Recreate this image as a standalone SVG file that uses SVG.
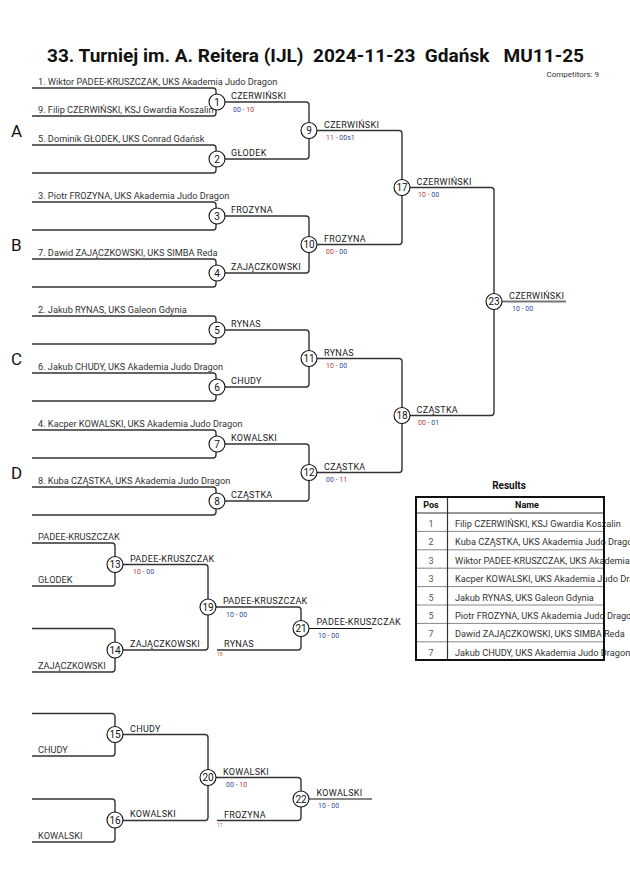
<svg xmlns="http://www.w3.org/2000/svg" width="630" height="891" viewBox="0 0 630 891">
<style>
text{font-family:Roboto,"Liberation Sans",sans-serif;fill:#222}
.title{font-size:18px;font-weight:bold;fill:#111}
.pool{font-size:17px;fill:#111}
.lab{font-size:9.2px;fill:#333}
.win{font-size:9px;fill:#222;letter-spacing:0.3px}
.sc{font-size:7px}
.r{fill:#b0392b}
.b{fill:#2d4a9a}
.d{fill:#555}
.tiny{font-size:5px;fill:#c0651e}
.num{font-size:10px;text-anchor:middle;fill:#111}
.br{fill:none;stroke:#333;stroke-width:1.4}
.fin{fill:none;stroke:#777;stroke-width:2}
.bk{fill:none;stroke:#111;stroke-width:1.2}
circle{fill:#fff;stroke:#111;stroke-width:1.1}
.th{font-size:9px;font-weight:bold;text-anchor:middle;fill:#111}
.pos{font-size:9px;text-anchor:middle;fill:#555}
.nm{font-size:9.2px;fill:#333}
</style>
<text class="title" x="47" y="62" textLength="537" lengthAdjust="spacingAndGlyphs" xml:space="preserve">33. Turniej im. A. Reitera (IJL)  2024-11-23  Gdańsk   MU11-25</text>
<text x="599" y="77" style="font-size:8px;text-anchor:end;fill:#333">Competitors: 9</text>
<g id="pools">
<text class="pool" x="11" y="137">A</text>
<text class="pool" x="11" y="251">B</text>
<text class="pool" x="11" y="365">C</text>
<text class="pool" x="11" y="479">D</text>
</g>
<g id="connectors">
<path class="br" d="M32,88 H213 a3,3 0 0 1 3,3 V113 a3,3 0 0 1 -3,3 H32"/>
<path class="br" d="M32,145 H213 a3,3 0 0 1 3,3 V170 a3,3 0 0 1 -3,3 H32"/>
<path class="br" d="M32,202 H213 a3,3 0 0 1 3,3 V227 a3,3 0 0 1 -3,3 H32"/>
<path class="br" d="M32,259 H213 a3,3 0 0 1 3,3 V284 a3,3 0 0 1 -3,3 H32"/>
<path class="br" d="M32,316 H213 a3,3 0 0 1 3,3 V341 a3,3 0 0 1 -3,3 H32"/>
<path class="br" d="M32,373 H213 a3,3 0 0 1 3,3 V398 a3,3 0 0 1 -3,3 H32"/>
<path class="br" d="M32,430 H213 a3,3 0 0 1 3,3 V455 a3,3 0 0 1 -3,3 H32"/>
<path class="br" d="M32,487 H213 a3,3 0 0 1 3,3 V512 a3,3 0 0 1 -3,3 H32"/>
<path class="br" d="M217,102 H306 a3,3 0 0 1 3,3 V156 a3,3 0 0 1 -3,3 H217"/>
<path class="br" d="M217,216 H306 a3,3 0 0 1 3,3 V270 a3,3 0 0 1 -3,3 H217"/>
<path class="br" d="M217,330 H306 a3,3 0 0 1 3,3 V384 a3,3 0 0 1 -3,3 H217"/>
<path class="br" d="M217,444 H306 a3,3 0 0 1 3,3 V498 a3,3 0 0 1 -3,3 H217"/>
<path class="br" d="M309,130.5 H399 a3,3 0 0 1 3,3 V241.5 a3,3 0 0 1 -3,3 H309"/>
<path class="br" d="M309,358.5 H399 a3,3 0 0 1 3,3 V469.5 a3,3 0 0 1 -3,3 H309"/>
<path class="br" d="M402,187.5 H491 a3,3 0 0 1 3,3 V412.5 a3,3 0 0 1 -3,3 H402"/>
<path class="fin" d="M494,301.5 H566"/>
<path class="br" d="M32,543 H112 a3,3 0 0 1 3,3 V583 a3,3 0 0 1 -3,3 H32"/>
<path class="br" d="M32,628.5 H112 a3,3 0 0 1 3,3 V669 a3,3 0 0 1 -3,3 H32"/>
<path class="br" d="M115,564.5 H205 a3,3 0 0 1 3,3 V647 a3,3 0 0 1 -3,3 H115"/>
<path class="br" d="M208,607 H298 a3,3 0 0 1 3,3 V647 a3,3 0 0 1 -3,3 H217"/>
<path class="bk" d="M301,628.5 H372"/>
<path class="br" d="M32,713.5 H112 a3,3 0 0 1 3,3 V753 a3,3 0 0 1 -3,3 H32"/>
<path class="br" d="M32,799 H112 a3,3 0 0 1 3,3 V839 a3,3 0 0 1 -3,3 H32"/>
<path class="br" d="M115,734.5 H205 a3,3 0 0 1 3,3 V817.5 a3,3 0 0 1 -3,3 H115"/>
<path class="br" d="M208,777.5 H298 a3,3 0 0 1 3,3 V817.5 a3,3 0 0 1 -3,3 H217"/>
<path class="bk" d="M301,799 H372"/>
</g>
<g id="labels">
<text class="lab" x="38" y="85">1. Wiktor PADEE-KRUSZCZAK, UKS Akademia Judo Dragon</text>
<text class="lab" x="38" y="113">9. Filip CZERWIŃSKI, KSJ Gwardia Koszalin</text>
<text class="lab" x="38" y="142">5. Dominik GŁODEK, UKS Conrad Gdańsk</text>
<text class="lab" x="38" y="199">3. Piotr FROZYNA, UKS Akademia Judo Dragon</text>
<text class="lab" x="38" y="256">7. Dawid ZAJĄCZKOWSKI, UKS SIMBA Reda</text>
<text class="lab" x="38" y="313">2. Jakub RYNAS, UKS Galeon Gdynia</text>
<text class="lab" x="38" y="370">6. Jakub CHUDY, UKS Akademia Judo Dragon</text>
<text class="lab" x="38" y="427">4. Kacper KOWALSKI, UKS Akademia Judo Dragon</text>
<text class="lab" x="38" y="484">8. Kuba CZĄSTKA, UKS Akademia Judo Dragon</text>
<text class="lab" x="38" y="540">PADEE-KRUSZCZAK</text>
<text class="lab" x="38" y="583">GŁODEK</text>
<text class="lab" x="38" y="669">ZAJĄCZKOWSKI</text>
<text class="lab" x="38" y="753">CHUDY</text>
<text class="lab" x="38" y="839">KOWALSKI</text>
</g>
<g id="m1"><text class="win" x="231" y="99">CZERWIŃSKI</text><text class="sc" x="233" y="111.5"><tspan class="b">00</tspan><tspan class="d"> - </tspan><tspan class="r">10</tspan></text><circle cx="217" cy="102" r="8"/><text class="num" x="217" y="105.5">1</text></g>
<g id="m2"><text class="win" x="231" y="156">GŁODEK</text><circle cx="217" cy="159" r="8"/><text class="num" x="217" y="162.5">2</text></g>
<g id="m3"><text class="win" x="231" y="213">FROZYNA</text><circle cx="217" cy="216" r="8"/><text class="num" x="217" y="219.5">3</text></g>
<g id="m4"><text class="win" x="231" y="270">ZAJĄCZKOWSKI</text><circle cx="217" cy="273" r="8"/><text class="num" x="217" y="276.5">4</text></g>
<g id="m5"><text class="win" x="231" y="327">RYNAS</text><circle cx="217" cy="330" r="8"/><text class="num" x="217" y="333.5">5</text></g>
<g id="m6"><text class="win" x="231" y="384">CHUDY</text><circle cx="217" cy="387" r="8"/><text class="num" x="217" y="390.5">6</text></g>
<g id="m7"><text class="win" x="231" y="441">KOWALSKI</text><circle cx="217" cy="444" r="8"/><text class="num" x="217" y="447.5">7</text></g>
<g id="m8"><text class="win" x="231" y="498">CZĄSTKA</text><circle cx="217" cy="501" r="8"/><text class="num" x="217" y="504.5">8</text></g>
<g id="m9"><text class="win" x="324" y="127.5">CZERWIŃSKI</text><text class="sc" x="326" y="140"><tspan class="r">11</tspan><tspan class="d"> - </tspan><tspan class="b">00s1</tspan></text><circle cx="309" cy="130.5" r="8"/><text class="num" x="309" y="134">9</text></g>
<g id="m10"><text class="win" x="324" y="241.5">FROZYNA</text><text class="sc" x="326" y="254"><tspan class="r">00</tspan><tspan class="d"> - </tspan><tspan class="b">00</tspan></text><circle cx="309" cy="244.5" r="8"/><text class="num" x="309" y="248">10</text></g>
<g id="m11"><text class="win" x="324" y="355.5">RYNAS</text><text class="sc" x="326" y="368"><tspan class="r">10</tspan><tspan class="d"> - </tspan><tspan class="b">00</tspan></text><circle cx="309" cy="358.5" r="8"/><text class="num" x="309" y="362">11</text></g>
<g id="m12"><text class="win" x="324" y="469.5">CZĄSTKA</text><text class="sc" x="326" y="482"><tspan class="b">00</tspan><tspan class="d"> - </tspan><tspan class="r">11</tspan></text><circle cx="309" cy="472.5" r="8"/><text class="num" x="309" y="476">12</text></g>
<g id="m17"><text class="win" x="416.5" y="184.5">CZERWIŃSKI</text><text class="sc" x="418" y="197"><tspan class="r">10</tspan><tspan class="d"> - </tspan><tspan class="b">00</tspan></text><circle cx="402" cy="187.5" r="8"/><text class="num" x="402" y="191">17</text></g>
<g id="m18"><text class="win" x="416.5" y="412.5">CZĄSTKA</text><text class="sc" x="418" y="425"><tspan class="r">00</tspan><tspan class="d"> - </tspan><tspan class="b">01</tspan></text><circle cx="402" cy="415.5" r="8"/><text class="num" x="402" y="419">18</text></g>
<g id="m23"><text class="win" x="509" y="298.5">CZERWIŃSKI</text><text class="sc" x="512" y="311"><tspan class="b">10</tspan><tspan class="d"> - </tspan><tspan class="b">00</tspan></text><circle cx="494" cy="301.5" r="8"/><text class="num" x="494" y="305">23</text></g>
<g id="m13"><text class="win" x="130" y="561.5">PADEE-KRUSZCZAK</text><text class="sc" x="133" y="574"><tspan class="r">10</tspan><tspan class="d"> - </tspan><tspan class="b">00</tspan></text><circle cx="115" cy="564.5" r="8"/><text class="num" x="115" y="568">13</text></g>
<g id="m14"><text class="win" x="130" y="647">ZAJĄCZKOWSKI</text><circle cx="115" cy="650" r="8"/><text class="num" x="115" y="653.5">14</text></g>
<g id="m19"><text class="win" x="223" y="604">PADEE-KRUSZCZAK</text><text class="sc" x="226" y="616.5"><tspan class="b">10</tspan><tspan class="d"> - </tspan><tspan class="b">00</tspan></text><text class="win" x="224" y="647">RYNAS</text><text class="tiny" x="217" y="656">18</text><circle cx="208" cy="607" r="8"/><text class="num" x="208" y="610.5">19</text></g>
<g id="m21"><text class="win" x="316.5" y="625">PADEE-KRUSZCZAK</text><text class="sc" x="318" y="637.5"><tspan class="b">10</tspan><tspan class="d"> - </tspan><tspan class="b">00</tspan></text><circle cx="301" cy="628.5" r="8"/><text class="num" x="301" y="632">21</text></g>
<g id="m15"><text class="win" x="130" y="731.5">CHUDY</text><circle cx="115" cy="734.5" r="8"/><text class="num" x="115" y="738">15</text></g>
<g id="m16"><text class="win" x="130" y="817">KOWALSKI</text><circle cx="115" cy="820" r="8"/><text class="num" x="115" y="823.5">16</text></g>
<g id="m20"><text class="win" x="223" y="774.5">KOWALSKI</text><text class="sc" x="226" y="787"><tspan class="b">00</tspan><tspan class="d"> - </tspan><tspan class="r">10</tspan></text><text class="win" x="224" y="817.5">FROZYNA</text><text class="tiny" x="217" y="826.5">17</text><circle cx="208" cy="777.5" r="8"/><text class="num" x="208" y="781">20</text></g>
<g id="m22"><text class="win" x="316.5" y="795.5">KOWALSKI</text><text class="sc" x="318" y="808"><tspan class="b">10</tspan><tspan class="d"> - </tspan><tspan class="b">00</tspan></text><circle cx="301" cy="799" r="8"/><text class="num" x="301" y="802.5">22</text></g>
<g id="results">
<text x="509" y="489" style="font-size:10px;font-weight:bold;text-anchor:middle;fill:#111">Results</text>
<text class="th" x="431" y="508">Pos</text>
<text class="th" x="527" y="508">Name</text>
<text class="pos" x="431" y="527">1</text><text class="nm" x="455" y="527">Filip CZERWIŃSKI, KSJ Gwardia Koszalin</text>
<text class="pos" x="431" y="545.4">2</text><text class="nm" x="455" y="545.4">Kuba CZĄSTKA, UKS Akademia Judo Dragon</text>
<text class="pos" x="431" y="563.8">3</text><text class="nm" x="455" y="563.8">Wiktor PADEE-KRUSZCZAK, UKS Akademia Judo Dragon</text>
<text class="pos" x="431" y="582.2">3</text><text class="nm" x="455" y="582.2">Kacper KOWALSKI, UKS Akademia Judo Dragon</text>
<text class="pos" x="431" y="600.6">5</text><text class="nm" x="455" y="600.6">Jakub RYNAS, UKS Galeon Gdynia</text>
<text class="pos" x="431" y="619">5</text><text class="nm" x="455" y="619">Piotr FROZYNA, UKS Akademia Judo Dragon</text>
<text class="pos" x="431" y="637.4">7</text><text class="nm" x="455" y="637.4">Dawid ZAJĄCZKOWSKI, UKS SIMBA Reda</text>
<text class="pos" x="431" y="655.8">7</text><text class="nm" x="455" y="655.8">Jakub CHUDY, UKS Akademia Judo Dragon</text>
<g stroke="#888" stroke-width="1">
<path d="M416,531.4 H604 M416,549.8 H604 M416,568.2 H604 M416,586.6 H604 M416,605 H604 M416,623.4 H604 M416,641.8 H604"/>
</g>
<path d="M416,513 H604 M447.5,497 V660" stroke="#333" stroke-width="1.2" fill="none"/>
<rect x="416" y="497" width="188" height="163" fill="none" stroke="#111" stroke-width="2"/>
</g>
</svg>
